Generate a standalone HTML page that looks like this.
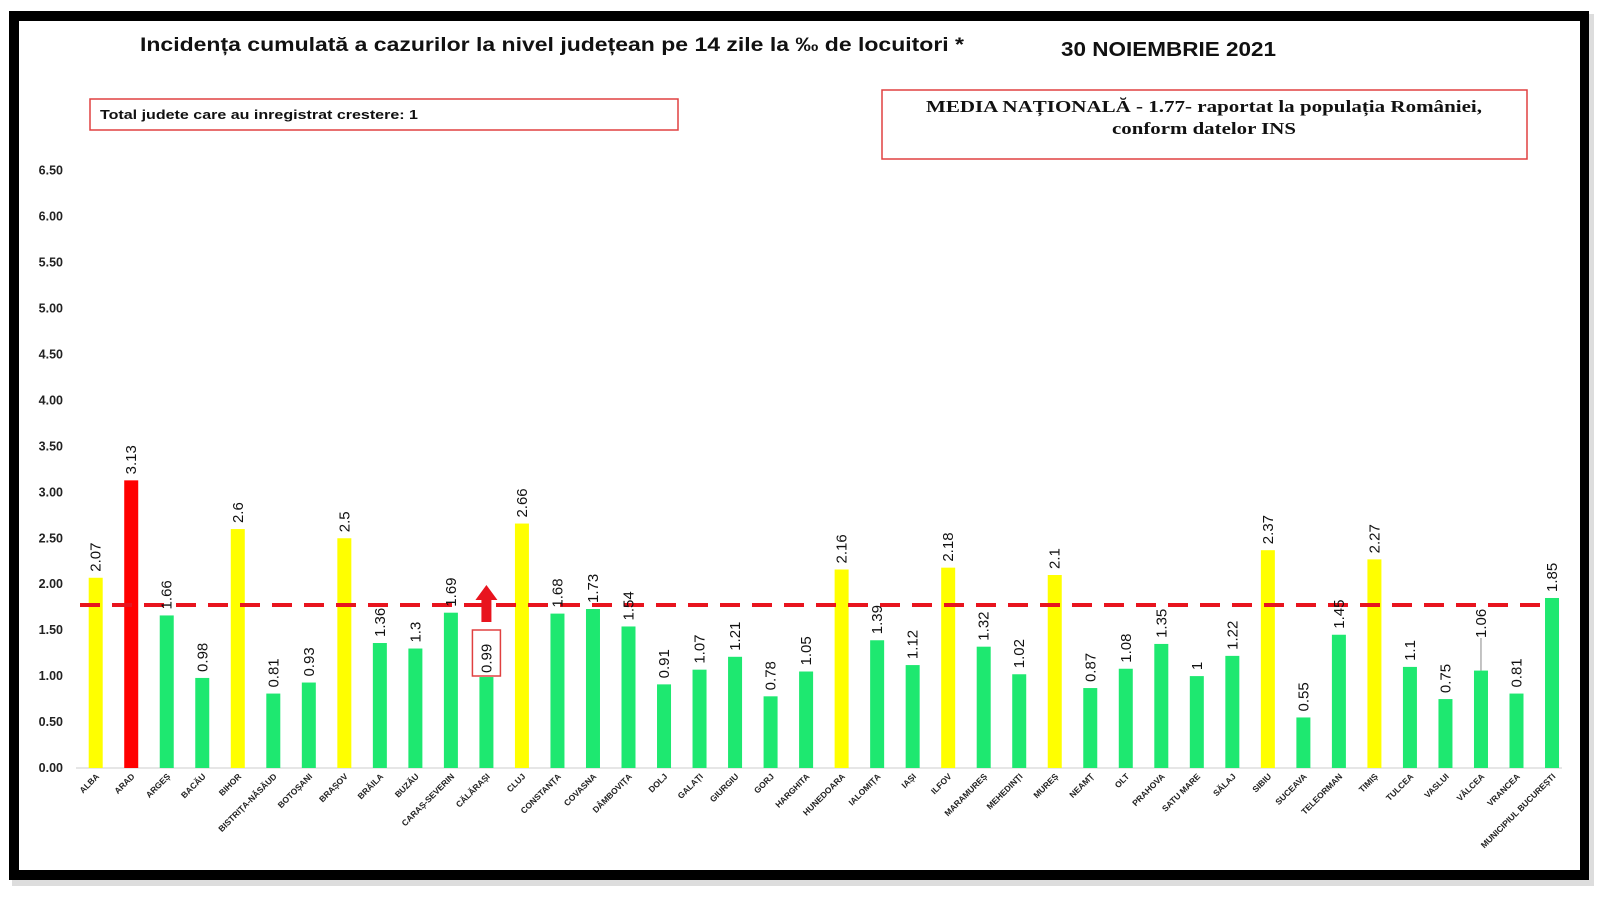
<!DOCTYPE html>
<html><head><meta charset="utf-8"><style>
html,body{margin:0;padding:0;background:#fff;width:1600px;height:900px;overflow:hidden}
svg{display:block}
</style></head><body>
<svg width="1600" height="900" viewBox="0 0 1600 900" xmlns="http://www.w3.org/2000/svg" font-family="Liberation Sans, DejaVu Sans, sans-serif">
<rect x="12" y="14" width="1582" height="872" fill="#bbb" opacity="0.5"/>
<rect x="9" y="11" width="1580" height="869" fill="#000"/>
<rect x="19" y="21" width="1561" height="849" fill="#fff"/>
<text x="140" y="51" font-size="19" font-weight="bold" fill="#111" textLength="824" lengthAdjust="spacingAndGlyphs">Incidența cumulată a cazurilor la nivel județean pe 14 zile la ‰ de locuitori *</text>
<text x="1061" y="56" font-size="20" font-weight="bold" fill="#111" textLength="215" lengthAdjust="spacingAndGlyphs">30 NOIEMBRIE 2021</text>
<rect x="90" y="99" width="588" height="31" fill="#fff" stroke="#e04040" stroke-width="1.5"/>
<text x="100" y="119" font-size="13" font-weight="bold" fill="#111" textLength="318" lengthAdjust="spacingAndGlyphs">Total judete care au inregistrat crestere: 1</text>
<rect x="882" y="90" width="645" height="69" fill="#fff" stroke="#e04040" stroke-width="1.5"/>
<text x="926" y="112" font-family="Liberation Serif, serif" font-size="17" font-weight="bold" fill="#111" textLength="556" lengthAdjust="spacingAndGlyphs">MEDIA NAȚIONALĂ  - 1.77-  raportat la populația României,</text>
<text x="1112" y="134" font-family="Liberation Serif, serif" font-size="17" font-weight="bold" fill="#111" textLength="184" lengthAdjust="spacingAndGlyphs">conform datelor INS</text>
<g font-size="12.5" font-weight="bold" fill="#222" text-anchor="end" id="yax"></g>
<line x1="76" y1="768" x2="1562" y2="768" stroke="#ddd" stroke-width="1.5"/>
<g id="bars"></g>
<line x1="80" y1="605" x2="1540" y2="605" stroke="#e8141e" stroke-width="4" stroke-dasharray="20,12"/>
<g id="labels" font-size="15" fill="#111"></g>
<g id="xl" font-size="8.5" font-weight="bold" fill="#222" text-anchor="end"></g>
</svg>
<script>
var ns="http://www.w3.org/2000/svg";
function el(t,a,p,txt){var e=document.createElementNS(ns,t);for(var k in a)e.setAttribute(k,a[k]);if(txt!==undefined)e.textContent=txt;document.getElementById(p).appendChild(e);return e;}
var yz=768,u=91.9;
for(var i=0;i<=13;i++){var v=i*0.5;el('text',{x:63,y:yz-v*u+4},'yax',v.toFixed(2));}
var d=[["ALBA",2.07,"y"],["ARAD",3.13,"r"],["ARGEȘ",1.66],["BACĂU",0.98],["BIHOR",2.6,"y"],["BISTRIȚA-NĂSĂUD",0.81],["BOTOȘANI",0.93],["BRAȘOV",2.5,"y"],["BRĂILA",1.36],["BUZĂU",1.3],["CARAȘ-SEVERIN",1.69],["CĂLĂRAȘI",0.99],["CLUJ",2.66,"y"],["CONSTANȚA",1.68],["COVASNA",1.73],["DÂMBOVIȚA",1.54],["DOLJ",0.91],["GALAȚI",1.07],["GIURGIU",1.21],["GORJ",0.78],["HARGHITA",1.05],["HUNEDOARA",2.16,"y"],["IALOMIȚA",1.39],["IAȘI",1.12],["ILFOV",2.18,"y"],["MARAMUREȘ",1.32],["MEHEDINȚI",1.02],["MUREȘ",2.1,"y"],["NEAMȚ",0.87],["OLT",1.08],["PRAHOVA",1.35],["SATU MARE",1],["SĂLAJ",1.22],["SIBIU",2.37,"y"],["SUCEAVA",0.55],["TELEORMAN",1.45],["TIMIȘ",2.27,"y"],["TULCEA",1.1],["VASLUI",0.75],["VÂLCEA",1.06],["VRANCEA",0.81],["MUNICIPIUL BUCUREȘTI",1.85]];
var col={y:"#ffff00",r:"#ff0000",g:"#1ee870"};
d.forEach(function(r,i){
 var x=95.7+35.52*i,top=yz-r[1]*u;
 el('rect',{x:x-7,y:top,width:14,height:yz-top,fill:col[r[2]||"g"]},'bars');
 var lb=top-6;
 if(i==11){lb=673;}
 if(i==39){lb=638;el('line',{x1:x,y1:638,x2:x,y2:top,stroke:"#888","stroke-width":1},'bars');}
 el('text',{transform:"translate("+(x+5)+","+lb+") rotate(-90)"},'labels',String(r[1]));
 el('text',{transform:"translate("+(x+4)+",777) rotate(-45)"},'xl',r[0]);
});
var cx=95.7+35.52*11;
el('rect',{x:cx-14,y:630,width:28,height:46,fill:"none",stroke:"#e04040","stroke-width":1.5},'labels');
el('polygon',{points:(cx-5)+",622 "+(cx+5)+",622 "+(cx+5)+",600 "+(cx+11)+",600 "+cx+",585 "+(cx-11)+",600 "+(cx-5)+",600",fill:"#e8141e"},'labels');
</script>
</body></html>
